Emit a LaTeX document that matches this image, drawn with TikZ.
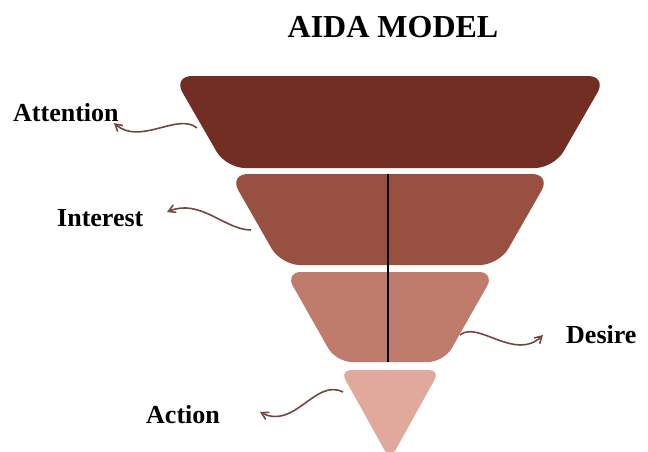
\documentclass[tikz,border=0pt]{standalone}
\usepackage{fontspec}
\setmainfont{Liberation Serif}
\usepackage{tikz}
\usetikzlibrary{arrows.meta}

\definecolor{attfill}{RGB}{114,46,34}
\definecolor{intfill}{RGB}{152,80,65}
\definecolor{desfill}{RGB}{191,123,108}
\definecolor{actfill}{RGB}{225,168,156}
\definecolor{wavecol}{RGB}{112,72,64}

\begin{document}
\begin{tikzpicture}[
      x=1pt, y=-1pt, % one unit per pixel, y runs downwards
      >={Straight Barb[length=2.4mm,width=2.8mm]},
      layer/.style={rounded corners=19pt},
      title/.style={font=\fontsize{32}{32}\selectfont\bfseries, anchor=base, inner sep=0pt},
      lbl/.style={font=\fontsize{26}{26}\selectfont\bfseries, anchor=base west, inner sep=0pt},
      wave/.style={->, line width=1.6pt, wavecol},
      divider/.style={line width=2.8pt, black},
    ]
    \clip (0,0) rectangle (648,451);

    % ---- title ----------------------------------------------------------
    \node[title] (ttl) at (393,37) {AIDA MODEL};

    % ---- funnel ---------------------------------------------------------
    \fill[layer, attfill] (173,76) -- (607,76) -- (554,168) -- (226,168) -- cycle;
    \fill[layer, intfill] (229,174) -- (551,174) -- (499,265) -- (281,265) -- cycle;
    \fill[layer, desfill, rounded corners=16pt] (285,272) -- (495,272) -- (444,362) -- (336,362) -- cycle;
    \fill[layer, actfill, rounded corners=11pt] (340,370) -- (440,370) -- (390,460) -- cycle;

    \draw[divider] (388,174) -- (388,362);

    % ---- labels ---------------------------------------------------------
    \node[lbl] (att) at (13,121)  {Attention};
    \node[lbl] (int) at (57,226)  {Interest};
    \node[lbl] (des) at (566,343) {Desire};
    \node[lbl] (act) at (146,423) {Action};

    % ---- wavy pointers --------------------------------------------------
    \coordinate (att-a) at (197,128);  \coordinate (att-b) at (114,123);
    \coordinate (int-a) at (251,230);  \coordinate (int-b) at (167,212);
    \coordinate (des-a) at (460,335);  \coordinate (des-b) at (543,335);
    \coordinate (act-a) at (343,392);  \coordinate (act-b) at (260,412);

    \draw[wave] (att-a) .. controls (178,112) and (140,146) .. (att-b);
    \draw[wave] (int-a) .. controls (225,230) and (200,198) .. (int-b);
    \draw[wave] (des-a) .. controls (478,320) and (515,362) .. (des-b);
    \draw[wave] (act-a) .. controls (315,378) and (295,430) .. (act-b);
  \end{tikzpicture}
\end{document}
